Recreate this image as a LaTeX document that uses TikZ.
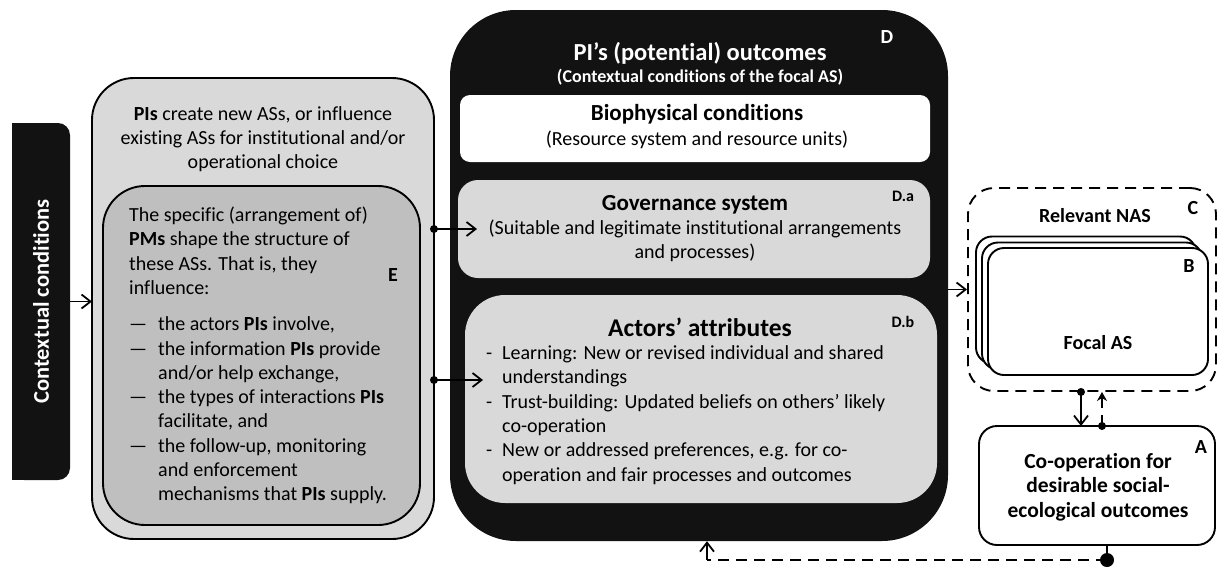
\documentclass[tikz,border=0pt]{standalone}
\usepackage{fontspec}
\setmainfont{Carlito}[Ligatures=CommonOff]
\usetikzlibrary{arrows.meta,positioning}
\definecolor{lightbox}{gray}{0.85}
\definecolor{midbox}{gray}{0.75}
\definecolor{darkbox}{gray}{0.07}

\begin{document}
\begin{tikzpicture}[x=1pt,y=-1pt]
\tikzset{
  panel/.style={draw,line width=1.9pt,inner sep=0pt,outer sep=0pt},
  ctxbox/.style={fill=darkbox,rounded corners=12pt,inner sep=0pt,minimum width=58pt,minimum height=357pt},
  pibox/.style={panel,fill=lightbox,rounded corners=42pt,minimum width=342pt,minimum height=461pt},
  pmbox/.style={panel,fill=midbox,rounded corners=42pt,minimum width=317pt,minimum height=339pt},
  outbox/.style={fill=darkbox,rounded corners=66pt,inner sep=0pt,minimum width=498pt,minimum height=531pt},
  biobox/.style={fill=white,rounded corners=10pt,inner sep=0pt,minimum width=470pt,minimum height=67pt},
  govbox/.style={fill=lightbox,rounded corners=20pt,inner sep=0pt,minimum width=472pt,minimum height=98pt},
  actbox/.style={fill=lightbox,rounded corners=40pt,inner sep=0pt,minimum width=472pt,minimum height=208pt},
  nasbox/.style={draw,line width=1.9pt,dash pattern=on 11pt off 7pt,rounded corners=26pt,inner sep=0pt,minimum width=248pt,minimum height=203pt},
  asbox/.style={panel,fill=white,rounded corners=16pt,minimum width=220pt,minimum height=127pt},
  coopbox/.style={panel,fill=white,rounded corners=18pt,minimum width=236pt,minimum height=119pt},
  body/.style={inner sep=0pt,font=\fontsize{20}{24.3}\selectfont},
  heading/.style={inner sep=0pt,font=\fontsize{23}{26}\selectfont\bfseries},
  tag/.style={inner sep=0pt,font=\fontsize{20}{24}\selectfont\bfseries},
  smalltag/.style={inner sep=0pt,font=\fontsize{16}{18}\selectfont\bfseries},
  link/.style={-{Straight Barb[length=9pt,width=14pt,line width=1.8pt]},line width=1.8pt},
  feedback/.style={line width=1.8pt,dash pattern=on 11pt off 7pt},
  dot/.style={circle,fill=black,inner sep=0pt,minimum size=8pt}
}
\useasboundingbox (0,0) rectangle (1218,568);

% contextual conditions
\node[ctxbox] (ctx) at (41,301.5) {};
\fill[darkbox] (ctx.north west) rectangle ([xshift=14pt]ctx.south west);
\node[rotate=90,text=white,font=\fontsize{22.5}{24}\selectfont\bfseries] (ctxtext) at (41,301.5) {Contextual conditions};

% process interventions and mechanisms
\node[pibox] (pi) at (263,308.5) {};
\node[body,align=center] (pitext) at (263,139) {\textbf{PIs} create new ASs, or influence\\existing ASs for institutional and/or\\operational choice};
\node[pmbox] (pm) at (261.5,355.5) {};
\node[body,align=left,anchor=west] (pmtext) at (129,355.5) {The specific (arrangement of)\\
\textbf{PMs} shape the structure of\\
these ASs. That is, they\\
influence:\\[12pt]
\makebox[29pt][l]{---}the actors \textbf{PIs} involve,\\
\makebox[29pt][l]{---}the information \textbf{PIs} provide\\
\hspace*{29pt}and/or help exchange,\\
\makebox[29pt][l]{---}the types of interactions \textbf{PIs}\\
\hspace*{29pt}facilitate, and\\
\makebox[29pt][l]{---}the follow-up, monitoring\\
\hspace*{29pt}and enforcement\\
\hspace*{29pt}mechanisms that \textbf{PIs} supply.};
\node[tag] (etag) at (393,275) {E};

% outcomes
\node[outbox] (out) at (699,275.5) {};
\node[heading,font=\fontsize{24.5}{26}\selectfont\bfseries,text=white] (outtitle) at (700,53) {PI’s (potential) outcomes};
\node[inner sep=0pt,font=\fontsize{18}{20}\selectfont\bfseries,text=white] (outsub) at (700,77) {(Contextual conditions of the focal AS)};
\node[tag,text=white] (dtag) at (887,37) {D};

\node[biobox] (bio) at (695,128.5) {};
\node[heading] (biotitle) at (697,114) {Biophysical conditions};
\node[body] (biosub) at (697,140) {(Resource system and resource units)};

\node[govbox] (gov) at (694,229) {};
\node[heading] (govtitle) at (695,205) {Governance system};
\node[body,align=center] (govsub) at (695,241) {(Suitable and legitimate institutional arrangements\\and processes)};
\node[smalltag] (datag) at (903,196) {D.a};

\node[actbox] (act) at (701,399) {};
\node[heading,font=\fontsize{25.5}{28}\selectfont\bfseries] (acttitle) at (700,327) {Actors’ attributes};
\node[body,align=left,anchor=west] (acttext) at (486,415) {\makebox[16pt][l]{-}Learning: New or revised individual and shared\\
\hspace*{16pt}understandings\\
\makebox[16pt][l]{-}Trust-building: Updated beliefs on others’ likely\\
\hspace*{16pt}co-operation\\
\makebox[16pt][l]{-}New or addressed preferences, e.g. for co-\\
\hspace*{16pt}operation and fair processes and outcomes};
\node[smalltag] (dbtag) at (903,322) {D.b};

% action situations
\node[nasbox] (nas) at (1092,289.5) {};
\node[tag] (nastitle) at (1095,216) {Relevant NAS};
\node[tag] (ctag) at (1193,208) {C};
\node[asbox] (asback) at (1086,300) {};
\node[asbox] (asmid) at (1092,306) {};
\node[asbox] (focal) at (1098,311.5) {};
\node[tag] (btag) at (1189,266) {B};
\node[tag] (focaltext) at (1098,343) {Focal AS};

\node[coopbox] (coop) at (1097,485.5) {};
\node[tag,font=\fontsize{21.5}{24.5}\selectfont\bfseries,align=center] (cooptext) at (1098,487) {Co-operation for\\desirable social-\\ecological outcomes};
\node[tag] (atag) at (1201,447) {A};

% connectors
\coordinate (govin) at (477,229);
\coordinate (actin) at (483,380);
\draw[link] (ctx.east) -- (ctx.east -| pi.west);
\draw[link] (govin -| pi.east) node[dot] {} -- (govin);
\draw[link] (actin -| pi.east) node[dot] {} -- (actin);
\draw[link] (nas.west -| out.east) -- (nas.west);
\coordinate (down) at (1081,0);
\coordinate (up) at (1102,0);
\draw[link] (nas.south -| down) node[dot] {} -- (coop.north -| down);
\draw[feedback,-{Stealth[length=9pt,width=10pt]}] (coop.north -| up) node[dot] {} -- (nas.south -| up);
\coordinate (fbend) at (1107,560);
\coordinate (fbstart) at (707,560);
\draw[line width=1.8pt] (coop.south -| fbend) -- (fbend) node[dot,minimum size=14pt] {};
\draw[feedback] (fbend) -- (fbstart);
\draw[link] (fbstart) -- (fbstart |- out.south);
\end{tikzpicture}
\end{document}
